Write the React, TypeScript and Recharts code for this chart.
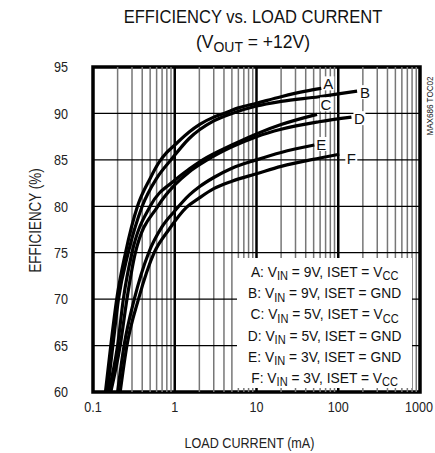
import React from 'react'
import { LineChart, Line, XAxis, YAxis, ReferenceLine, ReferenceArea } from 'recharts'

const FONT = "'Liberation Sans', Arial, sans-serif"
const NARROW = 0.84

// axis ticks and grid positions (mA on log x, % on y)
const X_TICKS = [0.1, 1, 10, 100, 1000]
const Y_TICKS = [60, 65, 70, 75, 80, 85, 90, 95]
const DECADE_LINES = [1, 10, 100]
const MINOR_LINES = [
  0.2, 0.3, 0.4, 0.5, 0.6, 0.7, 0.8, 0.9,
  2, 3, 4, 5, 6, 7, 8, 9,
  20, 30, 40, 50, 60, 70, 80, 90,
  200, 300, 400, 500, 600, 700, 800, 900,
]
const H_LINES = [65, 70, 75, 80, 85, 90]

// efficiency curves: [load mA, efficiency %]
const curveA = [[0.142, 60], [0.165, 65], [0.195, 70], [0.25, 75], [0.35, 80], [0.5, 83], [0.65, 84.8], [0.8, 85.8], [1, 86.6], [1.5, 88], [2, 88.8], [3, 89.6], [4, 90], [6, 90.6], [10, 91.1], [20, 91.8], [40, 92.4], [62, 92.7]]
const curveB = [[0.15, 60], [0.175, 65], [0.205, 70], [0.27, 75], [0.4, 80], [0.6, 83], [0.9, 85], [1.5, 87.3], [3, 89.2], [5, 90], [10, 90.8], [20, 91.3], [58, 91.8], [100, 92.1], [170, 92.4]]
const curveC = [[0.155, 60], [0.2, 65], [0.235, 70], [0.3, 75], [0.5, 80], [1, 82.8], [1.5, 84], [2.2, 85], [5, 86.6], [10, 87.8], [20, 88.8], [55, 89.9]]
const curveD = [[0.165, 60], [0.215, 65], [0.26, 70], [0.33, 75], [0.62, 80], [1, 82.3], [1.5, 83.7], [2.5, 85], [5, 86.4], [10, 87.5], [20, 88.3], [58, 89.1], [145, 89.6]]
const curveE = [[0.2, 60], [0.24, 65], [0.32, 70], [0.48, 75], [0.7, 77.8], [1, 79.5], [1.5, 81.2], [2, 82.1], [3, 83.1], [5, 84.1], [10, 85], [20, 85.8], [51, 86.6]]
const curveF = [[0.215, 60], [0.26, 65], [0.36, 70], [0.56, 75], [0.85, 77.5], [1.4, 79.9], [2, 80.9], [3, 81.9], [5, 82.7], [10, 83.5], [20, 84.3], [60, 85.2], [103, 85.6]]

const toRows = (pts: number[][]) => pts.map(([i, eff]) => ({ i, eff }))

const CURVES = [
  { name: 'A', pts: curveA, dx: 7, dy: -5 },
  { name: 'B', pts: curveB, dx: 8, dy: 1 },
  { name: 'C', pts: curveC, dx: 9, dy: -10 },
  { name: 'D', pts: curveD, dx: 8, dy: 1 },
  { name: 'E', pts: curveE, dx: 7, dy: -1 },
  { name: 'F', pts: curveF, dx: 12, dy: 4 },
]

const LEGEND = [
  ['A', '9V', 'V', 'CC'],
  ['B', '9V', 'GND', ''],
  ['C', '5V', 'V', 'CC'],
  ['D', '5V', 'GND', ''],
  ['E', '3V', 'GND', ''],
  ['F', '3V', 'V', 'CC'],
]

const sub: React.CSSProperties = { fontSize: '0.8em', position: 'relative', top: '0.28em' }

function endLabel(name: string, last: number, dx: number, dy: number) {
  return (p: any) => {
    if (p.index !== last) return <g />
    const cx = p.x + dx
    const cy = p.y + dy
    return (
      <g>
        <rect x={cx - 6} y={cy - 7} width={12} height={14} fill='#fff' />
        <text x={cx} y={cy} textAnchor='middle' dominantBaseline='central'
          fontFamily={FONT} fontSize={15} fill='#111'>{name}</text>
      </g>
    )
  }
}

const XTick = (p: any) => (
  <g transform={`translate(${p.x} ${p.y}) scale(${NARROW} 1)`}>
    <text x={0} y={0} dy='0.71em' textAnchor='middle' fontFamily={FONT} fontSize={15} fill='#222'>
      {p.payload.value}
    </text>
  </g>
)

const YTick = (p: any) => (
  <g transform={`translate(${p.x} ${p.y}) scale(${NARROW} 1)`}>
    <text x={0} y={0} dy='0.355em' textAnchor='end' fontFamily={FONT} fontSize={15} fill='#222'>
      {p.payload.value}
    </text>
  </g>
)

export default function App() {
  return (
    <div style={{ position: 'absolute', left: 0, top: 0, width: 435, height: 453, background: '#fff', fontFamily: FONT, color: '#111' }}>
      <div style={{ position: 'absolute', left: 0, width: 506, top: 6, textAlign: 'center', fontSize: 19, transform: `scaleX(${NARROW + 0.03})`, transformOrigin: '253px 0' }}>
        EFFICIENCY vs. LOAD CURRENT
      </div>
      <div style={{ position: 'absolute', left: 0, width: 506, top: 31, textAlign: 'center', fontSize: 19, transform: 'scaleX(0.92)', transformOrigin: '253px 0' }}>
        (V<span style={sub}>OUT</span> = +12V)
      </div>

      <LineChart width={435} height={453} margin={{ top: 67, right: 15, bottom: 31, left: 33 }}>
        <XAxis dataKey='i' type='number' scale='log' domain={[0.1, 1000]} ticks={X_TICKS}
          allowDataOverflow axisLine={false} tickLine={false} tickSize={0} tickMargin={9} height={30}
          tick={XTick}
          label={{
            content: (p: any) => {
              const vb = p.viewBox
              const x = vb.x + vb.width / 2 - 7
              const y = vb.y + vb.height + 26
              return (
                <g transform={`translate(${x} ${y}) scale(${NARROW} 1)`}>
                  <text x={0} y={0} textAnchor='middle' fontFamily={FONT} fontSize={15} fill='#222'>LOAD CURRENT (mA)</text>
                </g>
              )
            },
          }} />
        <YAxis type='number' domain={[60, 95]} ticks={Y_TICKS} width={60}
          axisLine={false} tickLine={false} tickSize={0} tickMargin={25}
          tick={YTick}
          label={{
            content: (p: any) => {
              const vb = p.viewBox
              const x = vb.x + 3
              const y = vb.y + vb.height / 2 - 9
              return (
                <g transform={`translate(${x} ${y}) rotate(-90) scale(${NARROW} 1)`}>
                  <text x={0} y={0} textAnchor='middle' dominantBaseline='central'
                    fontFamily={FONT} fontSize={16} fill='#222'>EFFICIENCY (%)</text>
                </g>
              )
            },
          }} />

        {MINOR_LINES.map((v) => (
          <ReferenceLine key={'m' + v} x={v} stroke='#777' strokeWidth={1.5} />
        ))}
        {H_LINES.map((v) => (
          <ReferenceLine key={'h' + v} y={v} stroke='#000' strokeWidth={1.2} />
        ))}
        {DECADE_LINES.map((v) => (
          <ReferenceLine key={'d' + v} x={v} stroke='#000' strokeWidth={2.5} />
        ))}
        <ReferenceArea x1={0.1} x2={1000} y1={60} y2={95} fill='none' stroke='#000' strokeWidth={3.5} />

        {CURVES.map((c) => (
          <Line key={c.name} data={toRows(c.pts)} dataKey='eff' type='monotone'
            stroke='#000' strokeWidth={3.2} dot={false} isAnimationActive={false}
            label={endLabel(c.name, c.pts.length - 1, c.dx, c.dy)} />
        ))}
      </LineChart>

      <div style={{ position: 'absolute', left: 237, top: 258, width: 175, height: 130, background: '#fff' }}>
        {LEGEND.map(([k, vin, iset, isub], n) => (
          <div key={k} style={{
            position: 'absolute', left: 0, width: 175, top: 3 + n * 21.2, height: 21, lineHeight: '21px',
            whiteSpace: 'nowrap', textAlign: 'center', fontSize: 15, transform: 'scaleX(0.92)', transformOrigin: '89px 0',
          }}>
            {k}: V<span style={sub}>IN</span> = {vin}, ISET = {iset}{isub ? <span style={sub}>{isub}</span> : null}
          </div>
        ))}
      </div>

      <div style={{ position: 'absolute', left: 430, top: 106, transform: 'translate(-50%, -50%) rotate(-90deg) scaleX(0.9)', fontSize: 9, whiteSpace: 'nowrap' }}>
        MAX686 TOC02
      </div>
    </div>
  )
}
